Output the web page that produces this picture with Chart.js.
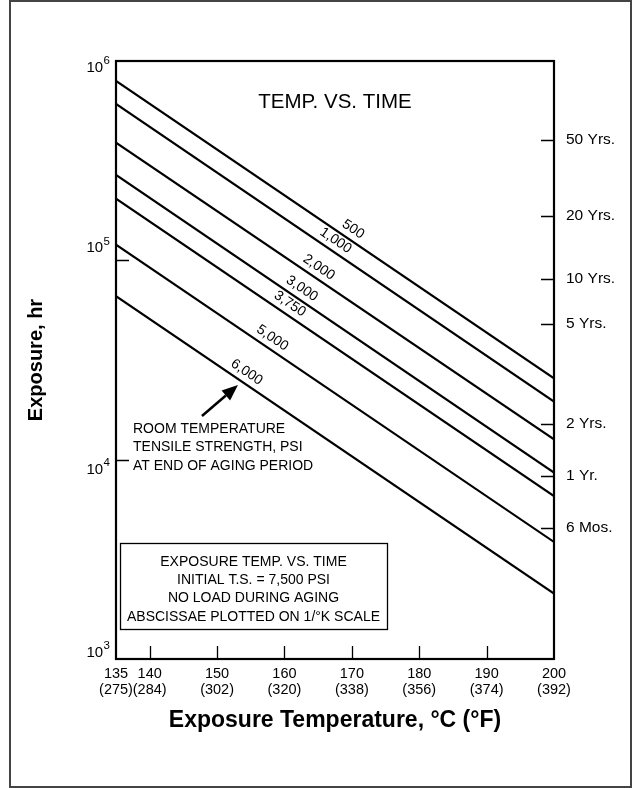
<!DOCTYPE html>
<html>
<head>
<meta charset="utf-8">
<script src="https://cdn.jsdelivr.net/npm/chart.js@4/dist/chart.umd.min.js"></script>
<style>
  html, body { margin: 0; padding: 0; background: #fff; }
  canvas { display: block; }
</style>
</head>
<body>
<canvas id="c" width="634" height="788"></canvas>
<script>
// ---------------- DATA ----------------
const temperaturesC = [135, 200];
const psi500  = [794000, 25600];
const psi1000 = [609000, 19540];
const psi2000 = [389000, 12660];
const psi3000 = [268000, 8610];
const psi3750 = [204000, 6575];
const psi5000 = [120000, 3865];
const psi6000 = [66100, 2127];
const seriesLabels = ['500', '1,000', '2,000', '3,000', '3,750', '5,000', '6,000'];
const labelTempsC = [170.2, 167.6, 165.1, 162.6, 160.8, 158.2, 154.4];

const xTickValues = [135, 140, 150, 160, 170, 180, 190, 200];
const xTickF = ['(275)', '(284)', '(302)', '(320)', '(338)', '(356)', '(374)', '(392)'];
const yTickValues = [1000, 10000, 100000, 1000000];
const yTickBase = ['10', '10', '10', '10'];
const yTickExp = ['3', '4', '5', '6'];
const lifeTickHours = [402000, 167000, 80700, 48000, 15100, 8280, 4530];
const lifeTickLabels = ['50 Yrs.', '20 Yrs.', '10 Yrs.', '5 Yrs.', '2 Yrs.', '1 Yr.', '6 Mos.'];

const chartTitle = 'TEMP. VS. TIME';
const noteLines = ['ROOM TEMPERATURE', 'TENSILE STRENGTH, PSI', 'AT END OF AGING PERIOD'];
const boxLines = ['EXPOSURE TEMP. VS. TIME', 'INITIAL T.S. = 7,500 PSI', 'NO LOAD DURING AGING', 'ABSCISSAE PLOTTED ON 1/\u00B0K SCALE'];
const arrowTempC = 153.1;
const xTitle = 'Exposure Temperature, \u00B0C (\u00B0F)';
const yTitle = 'Exposure, hr';

// ---------------- CHART ----------------
const FONT = '"Liberation Sans", Arial, Helvetica, sans-serif';
Chart.defaults.font.family = FONT;
Chart.defaults.color = '#000';

// label vertical nudges (styling) for the left tick labels
const yLabelNudge = [-6, 10, -12, 7];

const allSeries = [psi500, psi1000, psi2000, psi3000, psi3750, psi5000, psi6000];
const datasets = allSeries.map((vals, i) => ({
  label: seriesLabels[i],
  data: temperaturesC.map((t, j) => ({ x: t, y: vals[j] })),
  borderColor: '#000',
  borderWidth: 2.2,
  pointRadius: 0,
  fill: false,
  tension: 0
}));

function linePixels(chart, i) {
  const xs = chart.scales.x, ys = chart.scales.y;
  const v = allSeries[i];
  return {
    x0: xs.getPixelForValue(temperaturesC[0]), y0: ys.getPixelForValue(v[0]),
    x1: xs.getPixelForValue(temperaturesC[1]), y1: ys.getPixelForValue(v[1])
  };
}
function yOnLine(p, x) { return p.y0 + (p.y1 - p.y0) * (x - p.x0) / (p.x1 - p.x0); }

const decorPlugin = {
  id: 'decor',
  beforeDraw(chart) {
    const ctx = chart.ctx;
    ctx.save();
    ctx.fillStyle = '#fff';
    ctx.fillRect(0, 0, chart.width, chart.height);
    ctx.strokeStyle = '#444';
    ctx.lineWidth = 2;
    ctx.strokeRect(10, 1, 621, 786);
    ctx.restore();
  },
  afterDatasetsDraw(chart) {
    const ctx = chart.ctx;
    const ca = chart.chartArea;
    const xs = chart.scales.x, ys = chart.scales.y, y2 = chart.scales.y2;
    ctx.save();
    // frame
    ctx.strokeStyle = '#000';
    ctx.lineWidth = 2.2;
    ctx.strokeRect(ca.left, ca.top, ca.right - ca.left, ca.bottom - ca.top);
    // inner ticks
    ctx.lineWidth = 1.3;
    ctx.beginPath();
    xTickValues.forEach(v => {
      if (v === xs.min || v === xs.max) return;
      const px = Math.round(xs.getPixelForValue(v)) + 0.5;
      ctx.moveTo(px, ca.bottom); ctx.lineTo(px, ca.bottom - 13);
    });
    yTickValues.forEach(v => {
      if (v === ys.min || v === ys.max) return;
      const py = Math.round(ys.getPixelForValue(v)) + 0.5;
      ctx.moveTo(ca.left, py); ctx.lineTo(ca.left + 13, py);
    });
    lifeTickHours.forEach(v => {
      const py = Math.round(y2.getPixelForValue(v)) + 0.5;
      ctx.moveTo(ca.right, py); ctx.lineTo(ca.right - 13, py);
    });
    ctx.stroke();

    ctx.fillStyle = '#000';
    // left tick labels with superscript exponent
    ctx.textBaseline = 'middle';
    yTickValues.forEach((v, i) => {
      const py = ys.getPixelForValue(v) + yLabelNudge[i];
      ctx.font = '11.5px ' + FONT;
      const ew = ctx.measureText(yTickExp[i]).width;
      const ex = ca.left - 6 - ew;
      ctx.textAlign = 'left';
      ctx.fillText(yTickExp[i], ex, py - 7);
      ctx.font = '15px ' + FONT;
      ctx.textAlign = 'right';
      ctx.fillText(yTickBase[i], ex - 0.5, py);
    });

    // series labels along lines
    ctx.font = '14px ' + FONT;
    ctx.textAlign = 'center';
    ctx.textBaseline = 'middle';
    const off = 10.5;
    seriesLabels.forEach((lab, i) => {
      const p = linePixels(chart, i);
      const th = Math.atan2(p.y1 - p.y0, p.x1 - p.x0);
      const cx = xs.getPixelForValue(labelTempsC[i]);
      const lx = cx - off * Math.sin(th);
      const ly = yOnLine(p, lx);
      const tx = lx + off * Math.sin(th);
      const ty = ly - off * Math.cos(th);
      ctx.save();
      ctx.translate(tx, ty);
      ctx.rotate(th);
      ctx.fillText(lab, 0, 0);
      ctx.restore();
    });

    // title inside plot
    ctx.font = '20.5px ' + FONT;
    ctx.fillText(chartTitle, ca.left + 219, ca.top + 41);

    // note text
    ctx.font = '14px ' + FONT;
    ctx.textAlign = 'left';
    noteLines.forEach((t, k) => ctx.fillText(t, ca.left + 17, ca.top + 368 + k * 18.5));

    // arrow
    const p6 = linePixels(chart, 6);
    const tipX = xs.getPixelForValue(arrowTempC);
    const tipY = yOnLine(p6, tipX) + 6;
    const tailX = tipX - 36, tailY = tipY + 31;
    const ang = Math.atan2(tipY - tailY, tipX - tailX);
    const hl = 16, hw = 6.5;
    const bx = tipX - hl * Math.cos(ang), by = tipY - hl * Math.sin(ang);
    ctx.lineWidth = 2.5;
    ctx.beginPath();
    ctx.moveTo(tailX, tailY); ctx.lineTo(bx, by);
    ctx.stroke();
    ctx.beginPath();
    ctx.moveTo(tipX, tipY);
    ctx.lineTo(bx + hw * Math.sin(ang), by - hw * Math.cos(ang));
    ctx.lineTo(bx - hw * Math.sin(ang), by + hw * Math.cos(ang));
    ctx.closePath();
    ctx.fill();

    // info box
    const bxl = ca.left + 4, byt = ca.bottom - 116, bw = 267, bh = 86;
    ctx.fillStyle = '#fff';
    ctx.fillRect(bxl, byt, bw, bh);
    ctx.lineWidth = 1.3;
    ctx.strokeRect(bxl + 0.5, byt + 0.5, bw, bh);
    ctx.fillStyle = '#000';
    ctx.font = '14px ' + FONT;
    ctx.textAlign = 'center';
    boxLines.forEach((t, k) => ctx.fillText(t, bxl + bw / 2, byt + 19 + k * 18.3));
    ctx.restore();
  }
};

new Chart(document.getElementById('c'), {
  type: 'line',
  data: { datasets },
  plugins: [decorPlugin],
  options: {
    responsive: false,
    animation: false,
    layout: { padding: { top: 61, left: 0, right: 0, bottom: 0 } },
    plugins: { legend: { display: false }, tooltip: { enabled: false } },
    scales: {
      x: {
        type: 'linear', position: 'bottom', min: 135, max: 200,
        grid: { display: false },
        border: { display: false },
        afterBuildTicks: s => { s.ticks = xTickValues.map(v => ({ value: v })); },
        afterFit: s => { s.height = 129; },
        ticks: {
          autoSkip: false, maxRotation: 0, padding: -1,
          font: { size: 14.5, lineHeight: 1.1 },
          callback: (v) => { const i = xTickValues.indexOf(v); return [String(v), xTickF[i]]; }
        },
        title: { display: true, text: xTitle, font: { size: 23, weight: 'bold' }, padding: { top: 0, bottom: 54 } }
      },
      y: {
        type: 'logarithmic', position: 'left', min: 1000, max: 1000000,
        grid: { display: false },
        border: { display: false },
        afterBuildTicks: s => { s.ticks = yTickValues.map(v => ({ value: v })); },
        afterFit: s => { s.width = 116; },
        ticks: {
          autoSkip: false, padding: 8, font: { size: 15 },
          callback: () => ''
        },
        title: { display: true, text: yTitle, font: { size: 20, weight: 'bold' }, padding: { top: 24, bottom: 0 } }
      },
      y2: {
        type: 'logarithmic', position: 'right', min: 1000, max: 1000000,
        grid: { display: false },
        border: { display: false },
        afterBuildTicks: s => { s.ticks = lifeTickHours.map(v => ({ value: v })); },
        afterFit: s => { s.width = 80; },
        ticks: {
          autoSkip: false, padding: 4, font: { size: 15.5 },
          callback: (v) => { const i = lifeTickHours.indexOf(v); return i >= 0 ? lifeTickLabels[i] : ''; }
        }
      }
    }
  }
});
</script>
</body>
</html>
